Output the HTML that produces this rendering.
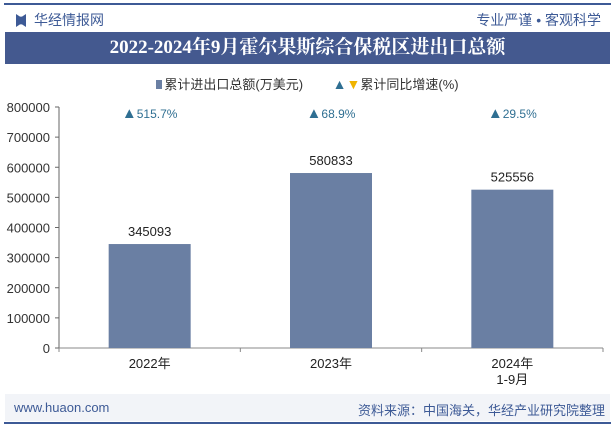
<!DOCTYPE html>
<html><head><meta charset="utf-8"><style>
body{margin:0;width:615px;height:427px;background:#fff;font-family:"Liberation Sans","Noto Sans CJK SC",sans-serif;position:relative;overflow:hidden}
.abs{position:absolute}
</style></head><body>
<div class="abs" style="left:4px;top:3px;width:607px;height:2px;background:#3d5a96"></div>
<div class="abs" style="left:16px;top:10px;font-size:14px;color:#3d5a96"><span style="display:inline-block;width:10px;height:13px;background:#3d5a96;vertical-align:-2px;margin-right:8px;clip-path:polygon(0 0,40% 20%,60% 20%,100% 0,100% 100%,60% 80%,40% 80%,0 100%)"></span>华经情报网</div>
<div class="abs" style="right:14px;top:10px;font-size:14px;color:#3d5a96">专业严谨 • 客观科学</div>
<div class="abs" style="left:5px;top:32px;width:605px;height:32px;background:#44598f;color:#fff;font-family:'Liberation Serif','Noto Serif CJK SC',serif;font-weight:bold;font-size:19px;text-align:center;line-height:32px">2022-2024年9月霍尔果斯综合保税区进出口总额</div>
<div class="abs" style="left:0;width:615px;top:74px;text-align:center;font-size:13px;color:#333">
<span><span style="display:inline-block;width:6px;height:9px;background:#6a7fa3;margin-right:2px"></span>累计进出口总额(万美元)</span>
<span style="margin-left:26px"><span style="color:#2f6f92;font-size:14px">▲</span><span style="color:#f0b400;font-size:14px">▼</span>累计同比增速(%)</span></div>
<svg class="abs" style="left:0;top:0" width="615" height="427" id="chart"></svg>
<div class="abs" style="left:5px;top:394px;width:605px;height:27px;background:#f2f4f8"></div>
<div class="abs" style="left:14px;top:400px;font-size:13px;color:#3d5a96">www.huaon.com</div>
<div class="abs" style="right:10px;top:400px;font-size:13px;color:#3d5a96">资料来源：中国海关，华经产业研究院整理</div>
<div class="abs" style="left:4px;top:422px;width:607px;height:2px;background:#3d5a96"></div>
<script>
const categories=["2022年","2023年","2024年\n1-9月"];
const values=[345093,580833,525556];
const growth=[515.7,68.9,29.5];
const ticks=[0,100000,200000,300000,400000,500000,600000,700000,800000];
const svg=document.getElementById('chart');const NS='http://www.w3.org/2000/svg';
const x0=59,x1=603,y0=348,y1=107,max=800000;
const y=v=>y0-(v/max)*(y0-y1);
const band=(x1-x0)/categories.length;
const xc=i=>x0+band*(i+0.5);
function mk(t,a,txt,p){const e=document.createElementNS(NS,t);for(const k in a)e.setAttribute(k,a[k]);if(txt!=null)e.textContent=txt;(p||svg).appendChild(e);return e;}
let e=mk('line',{x1:x0,y1:y0,x2:x0,y2:y1,stroke:'#666'});

e=mk('line',{x1:x0,y1:y0,x2:x1,y2:y0,stroke:'#888'});

ticks.forEach(t=>{
 e=mk('line',{x1:x0-4,x2:x0,y1:y(t),y2:y(t),stroke:'#666'});
 
 e=mk('text',{x:50,y:y(t)+5,'text-anchor':'end','font-size':13,fill:'#333'},String(t));
 
});
for(let i=0;i<=categories.length;i++){e=mk('line',{x1:x0+band*i,x2:x0+band*i,y1:y0,y2:y0+4,stroke:'#888'});
 }
categories.forEach((c,i)=>{
 const bw=82;
 e=mk('rect',{x:xc(i)-bw/2,y:y(values[i]),width:bw,height:y0-y(values[i]),fill:'#6a7fa3'});
 
 e=mk('text',{x:xc(i),y:y(values[i])-8,'text-anchor':'middle','font-size':13,fill:'#222'},String(values[i]));
 
 const g=mk('text',{x:xc(i),y:118,'text-anchor':'middle','font-size':12,fill:'#2f6f92'});
 
 mk('tspan',{'font-size':15},growth[i]>=0?'▲':'▼',g);
 mk('tspan',{},growth[i]+'%',g);
 c.split('\n').forEach((l,j)=>{e=mk('text',{x:xc(i),y:368+j*16,'text-anchor':'middle','font-size':13,fill:'#222'},l);
 });
});
</script>
</body></html>
